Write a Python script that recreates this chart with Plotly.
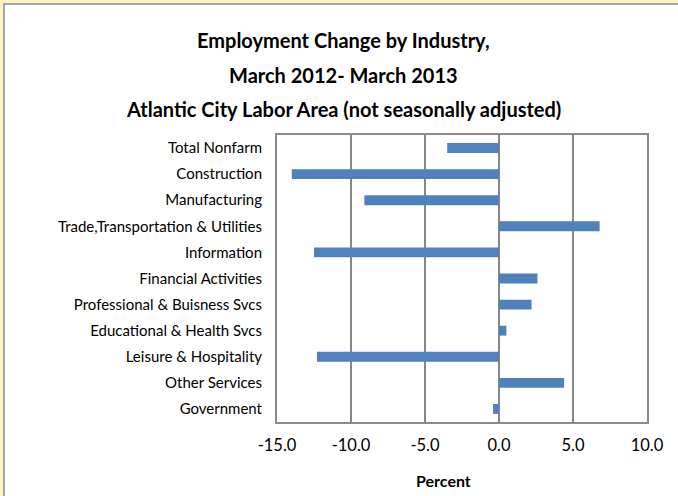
import plotly.graph_objects as go

categories = [
    "Total Nonfarm", "Construction", "Manufacturing",
    "Trade,Transportation & Utilities", "Information", "Financial Activities",
    "Professional & Buisness Svcs", "Educational & Health Svcs",
    "Leisure & Hospitality", "Other Services", "Government",
]
pct_change = [-3.5, -14.0, -9.1, 6.8, -12.5, 2.6, 2.2, 0.5, -12.3, 4.4, -0.4]
x_tick_vals = [-15, -10, -5, 0, 5, 10]
x_tick_text = ["-15.0", "-10.0", "-5.0", "0.0", "5.0", "10.0"]
title_lines = [
    "Employment Change by Industry,",
    "March 2012- March 2013",
    "Atlantic City Labor Area (not seasonally adjusted)",
]

W, H = 678, 496
L, R, T, B = 277, 31, 135, 74
PW, PH = W - L - R, H - T - B
FONT = "Lato, Carlito, Calibri, sans-serif"


def px(x):
    return (x - L) / PW


def py(y):
    return (H - B - y) / PH


fig = go.Figure(go.Bar(
    x=pct_change, y=categories, orientation="h",
    marker=dict(color="#4F81BD", line=dict(width=0)),
    hoverinfo="x+y",
))

fig.update_layout(
    width=W, height=H,
    margin=dict(l=L, r=R, t=T, b=B),
    paper_bgcolor="white", plot_bgcolor="white",
    bargap=0.62, showlegend=False,
    font=dict(family=FONT, color="#000000", size=15),
)
fig.update_xaxes(
    range=[-15, 10], tickvals=x_tick_vals, ticktext=x_tick_text,
    showgrid=True, gridcolor="#868686", gridwidth=1.5,
    zeroline=True, zerolinecolor="#868686", zerolinewidth=1.5,
    showline=True, linecolor="#8C8C8C", linewidth=2, mirror=True,
    ticks="", tickfont=dict(size=16.5, family=FONT), ticklabelstandoff=7,
)
fig.update_yaxes(
    categoryorder="array", categoryarray=categories, autorange="reversed",
    showgrid=False, showline=True, linecolor="#8C8C8C", linewidth=2, mirror=True,
    ticks="", tickfont=dict(size=15, family=FONT), ticklabelstandoff=10,
)

annotations = []
for line, yc in zip(title_lines, [40, 75, 109]):
    annotations.append(dict(
        text="<b>%s</b>" % line, x=px(343), y=py(yc), xref="paper", yref="paper",
        xanchor="center", yanchor="middle", showarrow=False,
        font=dict(size=20, family=FONT, color="#000000"),
    ))
annotations.append(dict(
    text="<b>Percent</b>", x=px(443), y=py(480), xref="paper", yref="paper",
    xanchor="center", yanchor="middle", showarrow=False,
    font=dict(size=16, family=FONT, color="#000000"),
))
fig.update_layout(annotations=annotations)

shapes = [
    dict(type="rect", xref="paper", yref="paper", x0=px(0), x1=px(3), y0=py(H), y1=py(0),
         fillcolor="#FFF3C3", line=dict(width=0), layer="above"),
    dict(type="rect", xref="paper", yref="paper", x0=px(0), x1=px(W), y0=py(3), y1=py(0),
         fillcolor="#FFF3C3", line=dict(width=0), layer="above"),
    dict(type="rect", xref="paper", yref="paper", x0=px(3), x1=px(5), y0=py(H), y1=py(3),
         fillcolor="#A6A6A6", line=dict(width=0), layer="above"),
    dict(type="rect", xref="paper", yref="paper", x0=px(3), x1=px(W), y0=py(5), y1=py(3),
         fillcolor="#A6A6A6", line=dict(width=0), layer="above"),
]
fig.update_layout(shapes=shapes)

fig.write_html(
    "out.html",
    config={"displayModeBar": False},
    post_script="document.body.style.margin='0';document.body.style.overflow='hidden';",
)
